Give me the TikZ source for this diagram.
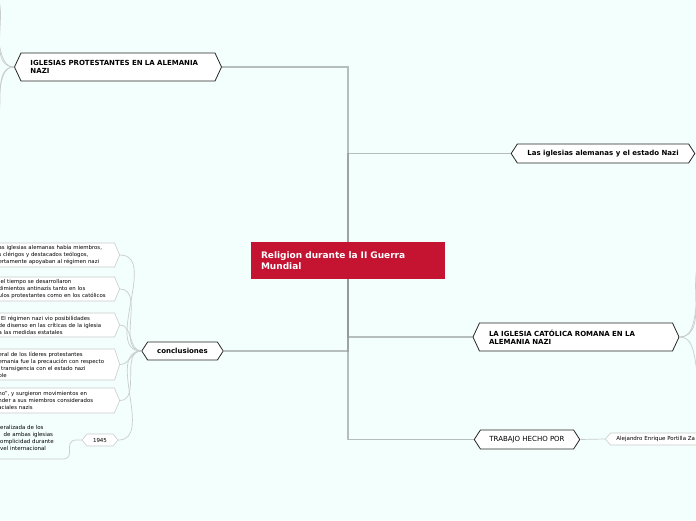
\documentclass[tikz,border=0pt]{standalone}
\usepackage{fontspec}
\setmainfont{DejaVu Sans}
\usetikzlibrary{shapes.symbols}
\definecolor{mapbg}{HTML}{F3FFFC}
\definecolor{rootred}{HTML}{C41432}
\definecolor{stemgray}{HTML}{8E9494}
\definecolor{twiggray}{HTML}{C9CDCD}

\begin{document}
\begin{tikzpicture}[x=1pt,y=-1pt,
  topic/.style={signal,signal to=east and west,draw=black!85,fill=white,line width=0.8pt,
    font=\bfseries\fontsize{7}{8.5}\selectfont,align=left,inner xsep=9.5pt,inner ysep=0pt},
  tall/.style={signal pointer angle=130,minimum height=28pt},
  flat/.style={signal pointer angle=114,minimum height=19pt},
  leaf/.style={signal,signal to=east and west,signal pointer angle=134,draw=twiggray,fill=white,
    line width=0.6pt,font=\fontsize{5.4}{7}\selectfont,align=left,inner xsep=6pt,inner ysep=0pt,
    text width=110pt,minimum height=24pt,anchor=east},
  tag/.style={signal,signal to=east and west,signal pointer angle=100,draw=twiggray,fill=white,
    line width=0.6pt,font=\fontsize{5.5}{7}\selectfont,inner xsep=6pt,inner ysep=0pt,minimum height=12pt},
  stem/.style={draw=stemgray,line width=1.2pt,opacity=0.6},
  twig/.style={draw=twiggray,line width=0.7pt},
]
\useasboundingbox (0,0) rectangle (696,520);
\fill[mapbg] (0,0) rectangle (696,520);
\clip (0,0) rectangle (696,520);

% centre
\node[fill=rootred,text=white,font=\bfseries\fontsize{9}{11}\selectfont,align=left,
  text width=174pt,inner xsep=10pt,minimum height=37pt] (root) at (348,260.5)
  {Religion durante la II Guerra\\Mundial};

% main topics
\node[topic,tall,text width=175pt] (prot) at (118,67) {IGLESIAS PROTESTANTES EN LA ALEMANIA\\NAZI};
\node[topic,flat,inner xsep=10pt] (igl) at (603,153.5) {Las iglesias alemanas y el estado Nazi};
\node[topic,tall,text width=174pt] (cat) at (576,337) {LA IGLESIA CATÓLICA ROMANA EN LA\\ALEMANIA NAZI};
\node[topic,flat,font=\fontsize{7}{8.5}\selectfont,inner xsep=9pt] (work) at (527,439.5) {TRABAJO HECHO POR};
\node[topic,flat,minimum height=18pt] (concl) at (182.5,351) {conclusiones};

\node[tag,anchor=west,text width=110pt,align=left] (author) at (605,439) {Alejandro Enrique Portilla Za};

% conclusiones
\node[leaf] (c1) at (120,255) {as iglesias alemanas había miembros,\\s clérigos y destacados teólogos,\\ertamente apoyaban al régimen nazi};
\node[leaf] (c2) at (120,289) {\hspace*{2pt}el tiempo se desarrollaron\\dimientos antinazis tanto en los\\ulos protestantes como en los católicos};
\node[leaf] (c3) at (120,325) {\hspace*{2.5pt}El régimen nazi vio posibilidades\\de disenso en las críticas de la iglesia\\a las medidas estatales};
\node[leaf,minimum height=31pt,signal pointer angle=144] (c4) at (120,364.5) {eral de los líderes protestantes\\emania fue la precaución con respecto\\\hspace*{2.5pt}transigencia con el estado nazi\\ole};
\node[leaf,minimum height=25pt] (c5) at (120,400.5) {no”, y surgieron movimientos en\\nder a sus miembros considerados\\aciales nazis};
\node[tag] (yr) at (100,440) {1945};
\node[font=\fontsize{5.5}{7}\selectfont,align=left,anchor=south west,inner xsep=0pt,inner ysep=8.5pt] (note) at (0,459)
  {eralizada de los\\\hspace*{3.5pt}de ambas iglesias\\omplicidad durante\\vel internacional};

% branches leaving the picture
\coordinate (pa) at (-14,-10);
\coordinate (pb) at (-14,30);
\coordinate (pc) at (-14,110);
\coordinate (pd) at (-14,130);
\coordinate (ka) at (712,255);
\coordinate (kb) at (712,282);
\coordinate (kc) at (712,390);

% connectors
\draw[stem] (root.north) |- (prot.east);
\draw[stem] (root.north) |- (igl.west);
\draw[stem] (root.south) |- (cat.west);
\draw[stem] (root.south) |- (concl.east);
\draw[stem] (root.south) |- (work.west);
\draw[twig] (work.east) -- (author.west);
\foreach \k in {c1,c2,c3,c4,c5,yr}
  \draw[twig] (concl.west) to[out=180,in=0] (\k.east);
\draw[twig,rounded corners=6pt] (yr.west) -- ++(-12,0) |- (note.south west);
\foreach \k in {pa,pb,pc,pd}
  \draw[twig] (prot.west) to[out=180,in=0] (\k);
\foreach \k in {ka,kb,kc}
  \draw[twig] (cat.east) to[out=0,in=180] (\k);
\end{tikzpicture}
\end{document}
